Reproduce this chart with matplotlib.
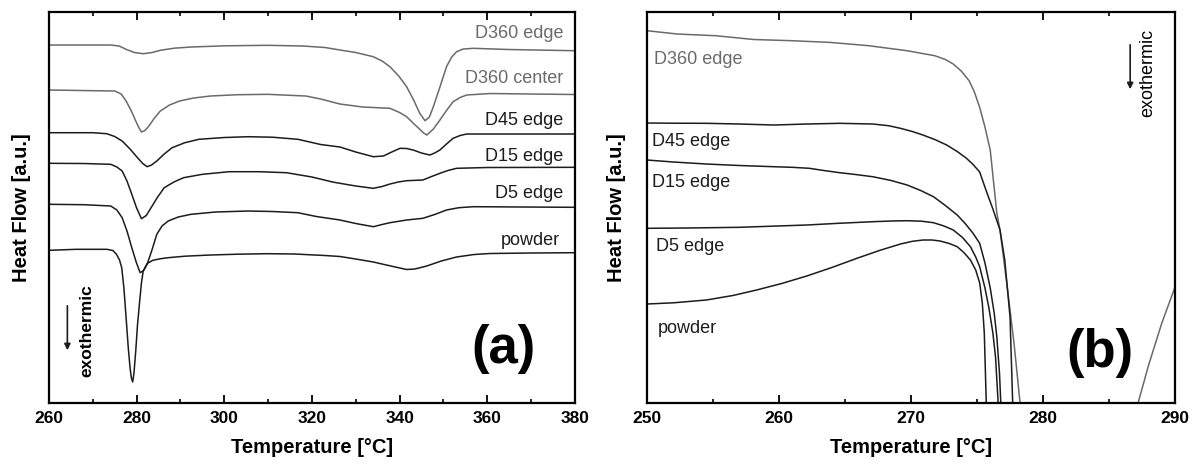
import matplotlib
matplotlib.use("Agg")
import matplotlib.pyplot as plt
from matplotlib.ticker import MultipleLocator

plt.rcParams["font.family"] = ["Liberation Sans", "DejaVu Sans"]

GRAY = "#6a6a6a"
BLACK = "#1c1c1c"

# ---- panel (a): DSC traces 260-380 C (heat flow in a.u., curves offset) ----
a_d360_edge_t = [260, 274.1, 276.0, 277.6, 279.5, 281.5, 283.5, 285.4, 288.5, 292.4, 300, 309.9, 318,
                 323, 326.4, 330, 334, 336, 337.8, 339.8, 341.6, 343.2, 344.6, 345.8, 346.8, 347.7,
                 349.2, 350.7, 351.9, 353, 354.5, 356.8, 365, 380]
a_d360_edge_hf = [358, 358, 357, 353.7, 350.5, 349.3, 350.5, 352.7, 354.8, 356, 357.2, 357.7, 357,
                  355.5, 353, 350.5, 346.3, 342, 336.3, 327, 316.3, 303, 289.7, 282.3, 286, 296.3,
                  316, 336.3, 346, 351.3, 354, 354.7, 353.5, 352.3]

a_d360_center_t = [260, 275, 276.5, 277.6, 278.8, 279.8, 280.5, 281.1, 281.9, 282.8, 284, 285.4, 287.5,
                   289.8, 293, 296.8, 303, 309.9, 318.6, 322, 326.4, 331.6, 337.8, 340, 341.6, 343.2,
                   344.6, 345.5, 346.2, 347.7, 349.2, 350.7, 352.2, 353.8, 355.3, 360.6, 370, 380]
a_d360_center_hf = [313, 312, 309, 302, 292, 282, 275.5, 271, 272.5, 277, 284.5, 292, 298,
                    302, 305, 307, 308.3, 308.7, 307, 304, 299, 296, 294.7, 290.5, 286.3, 279.5,
                    273.7, 270, 268, 274, 283, 292.5, 301.3, 305.5, 308, 309.5, 309, 308.5]

a_d45_t = [260, 270, 273.2, 275, 276.7, 278.5, 280.2, 281.4, 282.4, 283.4, 284.6, 286.3, 288.1, 291,
           294.2, 300, 305.5, 311, 316.8, 322, 326.4, 330, 334, 336.3, 338.2, 340.1, 341.6, 343.1,
           345, 346.9, 348, 349.2, 350.7, 352.2, 353.8, 355.3, 365, 380]
a_d45_hf = [270.3, 270.3, 269.3, 266.5, 262, 254, 245.3, 239.5, 236.3, 238, 242, 249, 255.3, 260.3,
            263.7, 265.5, 266.3, 265.8, 263.7, 258.5, 256, 251, 246.3, 247, 251, 254.7, 254.5, 253,
            250, 248, 250, 253, 259, 264.7, 267.5, 269, 269, 269]

a_d15_t = [260, 268, 274.1, 275.5, 276.7, 277.8, 278.9, 280, 281.1, 282.2, 283.3, 284.8, 286.3,
           288.5, 290.7, 295, 301.1, 308, 314.2, 320, 324.7, 326.4, 330, 334, 336, 337.8, 339.7,
           341.6, 345.3, 347.3, 349.2, 351, 353, 360, 380]
a_d15_hf = [239.7, 239.5, 238.7, 236, 232, 222, 208.7, 195, 184.3, 187.5, 195.3, 206, 215.3,
            221, 225.3, 228.7, 231.3, 231.3, 230.3, 226, 221, 219.7, 217, 214.7, 216.5, 219, 221,
            222.3, 223, 226.5, 229.7, 232.5, 234.7, 235.5, 235.7]

a_d5_t = [260, 268, 274.1, 275.5, 276.7, 277.8, 278.9, 279.9, 280.8, 281.6, 282.4, 283.5, 284.6,
          285.8, 287.2, 289.5, 292.4, 298, 305.5, 311, 316.8, 321, 326.4, 330, 334, 336, 337.8,
          341.6, 345.3, 348, 350.7, 353.5, 356.8, 380]
a_d5_hf = [198.7, 198.3, 197, 193, 185.3, 172, 155.3, 141, 130.3, 132.5, 138.7, 153, 168.7,
           177, 182, 186, 188.7, 191, 192, 191.5, 190.3, 186.5, 183, 179.5, 176.3, 178.5, 180.3,
           183, 184.7, 188.5, 193, 195.3, 196.3, 195.7]

a_powder_t = [260, 266.3, 273.2, 274.6, 275.4, 276.1, 276.6, 277.1, 277.6, 278.1, 278.5, 278.8, 279.1,
              279.4, 279.8, 280.2, 280.7, 281.1, 281.5, 282.4, 283.7, 285.5, 287.2, 291, 296.8,
              303, 309.9, 316, 323, 326.4, 330, 334, 338, 341.6, 343.5, 346.2, 349.5, 353, 357,
              360.6, 370, 380]
a_powder_hf = [152.7, 153.7, 153.7, 152.5, 148.7, 143, 135.3, 115, 85.3, 55, 35.3, 25, 21,
               30, 52, 78, 102, 120, 132, 139.5, 142.7, 144.3, 145.3, 146.8, 148,
               148.8, 149.3, 149, 147.5, 146.5, 144, 141, 137, 133.5, 134, 137, 142, 146, 148.5,
               149.5, 150, 150.3]

a_labels = ["D360 edge", "D360 center", "D45 edge", "D15 edge", "D5 edge", "powder"]
a_label_t = [377.4, 377.4, 377.4, 377.4, 377.4, 376.5]
a_label_hf = [369.4, 324.4, 282.8, 246.2, 209.6, 162.7]

# ---- panel (b): zoom 250-290 C ----
b_d360_edge_t = [250, 252.3, 255.2, 258.1, 261, 263.9, 266.8, 269.7, 271.8, 272.6, 273.2, 273.8,
                 274.4, 274.8, 275.2, 275.6, 276.0, 276.3, 276.5, 276.74, 277.25, 277.8, 278.26,
                 283, 287.2, 288.0, 289.0, 290]
b_d360_edge_hf = [372.3, 369, 367.3, 363.5, 362.3, 360.6, 357.3, 352.3, 347.3, 343.5, 339, 332,
                  322.3, 311, 295.6, 276, 253, 215, 190, 173, 120, 60, 0,
                  -200, 0, 38, 80, 116]

b_d45_t = [250, 252, 254.5, 257, 259.6, 262.1, 264.6, 267.1, 268.3, 269.2, 270.1, 270.9, 271.8,
           272.7, 273.5, 274.2, 274.7, 275.2, 275.7, 276.2, 276.74, 277.1, 277.5, 277.7]
b_d45_hf = [280, 279.8, 279.7, 279, 278, 279, 279.7, 279, 277.3, 274.7, 271.5, 268, 263.5,
            258, 251.5, 244.7, 238.5, 231, 212, 194, 173, 143, 86, 0]

b_d15_t = [250, 252, 254.5, 257, 259.6, 261, 262.3, 263.4, 264.6, 265.8, 267.1, 268.5, 269.7,
           270.7, 271.7, 272.6, 273.5, 274.1, 274.7, 275.2, 275.6, 276.0, 276.3, 276.5, 276.7, 276.8]
b_d15_hf = [243, 241, 239, 237.5, 236.3, 235.7, 234.7, 232.5, 230.3, 228.5, 226.3, 222.5, 218,
            212.7, 206.3, 197.5, 188, 179.5, 169.7, 159.7, 140, 115, 90, 66, 30, 0]

b_d5_t = [250, 253, 257, 262.1, 264.5, 267.1, 268.5, 269.7, 270.8, 271.7, 272.5, 273.2, 273.9,
          274.5, 274.9, 275.2, 275.6, 275.9, 276.2, 276.4, 276.6]
b_d5_hf = [174.7, 175, 175.7, 178, 179.7, 181.3, 182, 182.3, 181.8, 180.3, 177, 173, 165.5,
           156.3, 146, 136.3, 115, 95, 70, 46, 0]

b_powder_t = [250, 252, 254.5, 256.5, 258.3, 260.2, 262.1, 264, 265.9, 267.6, 269.2, 270.1, 270.9,
              271.6, 272.2, 272.9, 273.5, 274, 274.5, 274.9, 275.2, 275.4, 275.55, 275.7]
b_powder_hf = [99, 100.2, 103, 107.5, 113, 119.5, 127, 135.5, 144.7, 152.5, 159, 161.7, 163,
               163, 162, 159.5, 156.3, 150.5, 143, 133, 120, 100, 70, 0]

b_labels = ["D360 edge", "D45 edge", "D15 edge", "D5 edge", "powder"]
b_label_t = [250.5, 250.4, 250.4, 250.7, 250.8]
b_label_hf = [344, 261.7, 221, 157, 75]


def style_axes(ax, xmin, xmax, major, minor):
    ax.set_xlim(xmin, xmax)
    ax.set_ylim(0, 391)
    ax.xaxis.set_major_locator(MultipleLocator(major))
    ax.xaxis.set_minor_locator(MultipleLocator(minor))
    ax.tick_params(axis="x", which="both", direction="in", top=True, bottom=True)
    ax.tick_params(axis="x", which="major", length=6, width=1.3, pad=6,
                   labelsize=12.5)
    ax.tick_params(axis="x", which="minor", length=3, width=1.2)
    ax.set_yticks([])
    for lbl in ax.get_xticklabels():
        lbl.set_fontweight("bold")
    for sp in ax.spines.values():
        sp.set_linewidth(1.6)
    ax.set_xlabel("Temperature [°C]", fontsize=14.5, fontweight="bold")
    ax.xaxis.set_label_coords(0.5, -0.115)
    ax.xaxis.label.set_va("center")
    ax.set_ylabel("Heat Flow [a.u.]", fontsize=14.5, fontweight="bold")
    ax.yaxis.label.set_va("center")


fig = plt.figure(figsize=(12, 4.66), dpi=100)
ax1 = fig.add_axes([0.0408, 0.1352, 0.4383, 0.839])
ax2 = fig.add_axes([0.5392, 0.1352, 0.44, 0.839])

# panel (a)
a_series = [(a_d360_edge_t, a_d360_edge_hf, GRAY), (a_d360_center_t, a_d360_center_hf, GRAY),
            (a_d45_t, a_d45_hf, BLACK), (a_d15_t, a_d15_hf, BLACK),
            (a_d5_t, a_d5_hf, BLACK), (a_powder_t, a_powder_hf, BLACK)]
for t, hf, c in a_series:
    ax1.plot(t, hf, color=c, lw=1.1, solid_joinstyle="round")
for i, name in enumerate(a_labels):
    ax1.text(a_label_t[i], a_label_hf[i], name, ha="right", va="center", fontsize=13,
             color=GRAY if "D360" in name else BLACK)
style_axes(ax1, 260, 380, 20, 10)
ax1.yaxis.set_label_coords(-0.053, 0.5)
ax1.text(363.6, 54, "(a)", fontsize=38, fontweight="bold", ha="center", va="center")
ax1.annotate("", xy=(264.2, 50), xytext=(264.2, 100),
             arrowprops=dict(arrowstyle="-|>", lw=1.2, color=BLACK, mutation_scale=9))
ax1.text(268.6, 72, "exothermic", rotation=90, fontsize=12.5, fontweight="bold",
         ha="center", va="center")

# panel (b)
b_series = [(b_d360_edge_t, b_d360_edge_hf, GRAY), (b_d45_t, b_d45_hf, BLACK),
            (b_d15_t, b_d15_hf, BLACK), (b_d5_t, b_d5_hf, BLACK),
            (b_powder_t, b_powder_hf, BLACK)]
for t, hf, c in b_series:
    ax2.plot(t, hf, color=c, lw=1.1, solid_joinstyle="round")
for i, name in enumerate(b_labels):
    ax2.text(b_label_t[i], b_label_hf[i], name, ha="left", va="center", fontsize=13,
             color=GRAY if "D360" in name else BLACK)
style_axes(ax2, 250, 290, 10, 5)
ax2.yaxis.set_label_coords(-0.057, 0.5)
ax2.text(284.3, 50, "(b)", fontsize=38, fontweight="bold", ha="center", va="center")
ax2.annotate("", xy=(286.6, 311), xytext=(286.6, 361),
             arrowprops=dict(arrowstyle="-|>", lw=1.2, color=BLACK, mutation_scale=9))
ax2.text(287.9, 330, "exothermic", rotation=90, fontsize=13, ha="center", va="center")

fig.savefig("out.png", dpi=100)
